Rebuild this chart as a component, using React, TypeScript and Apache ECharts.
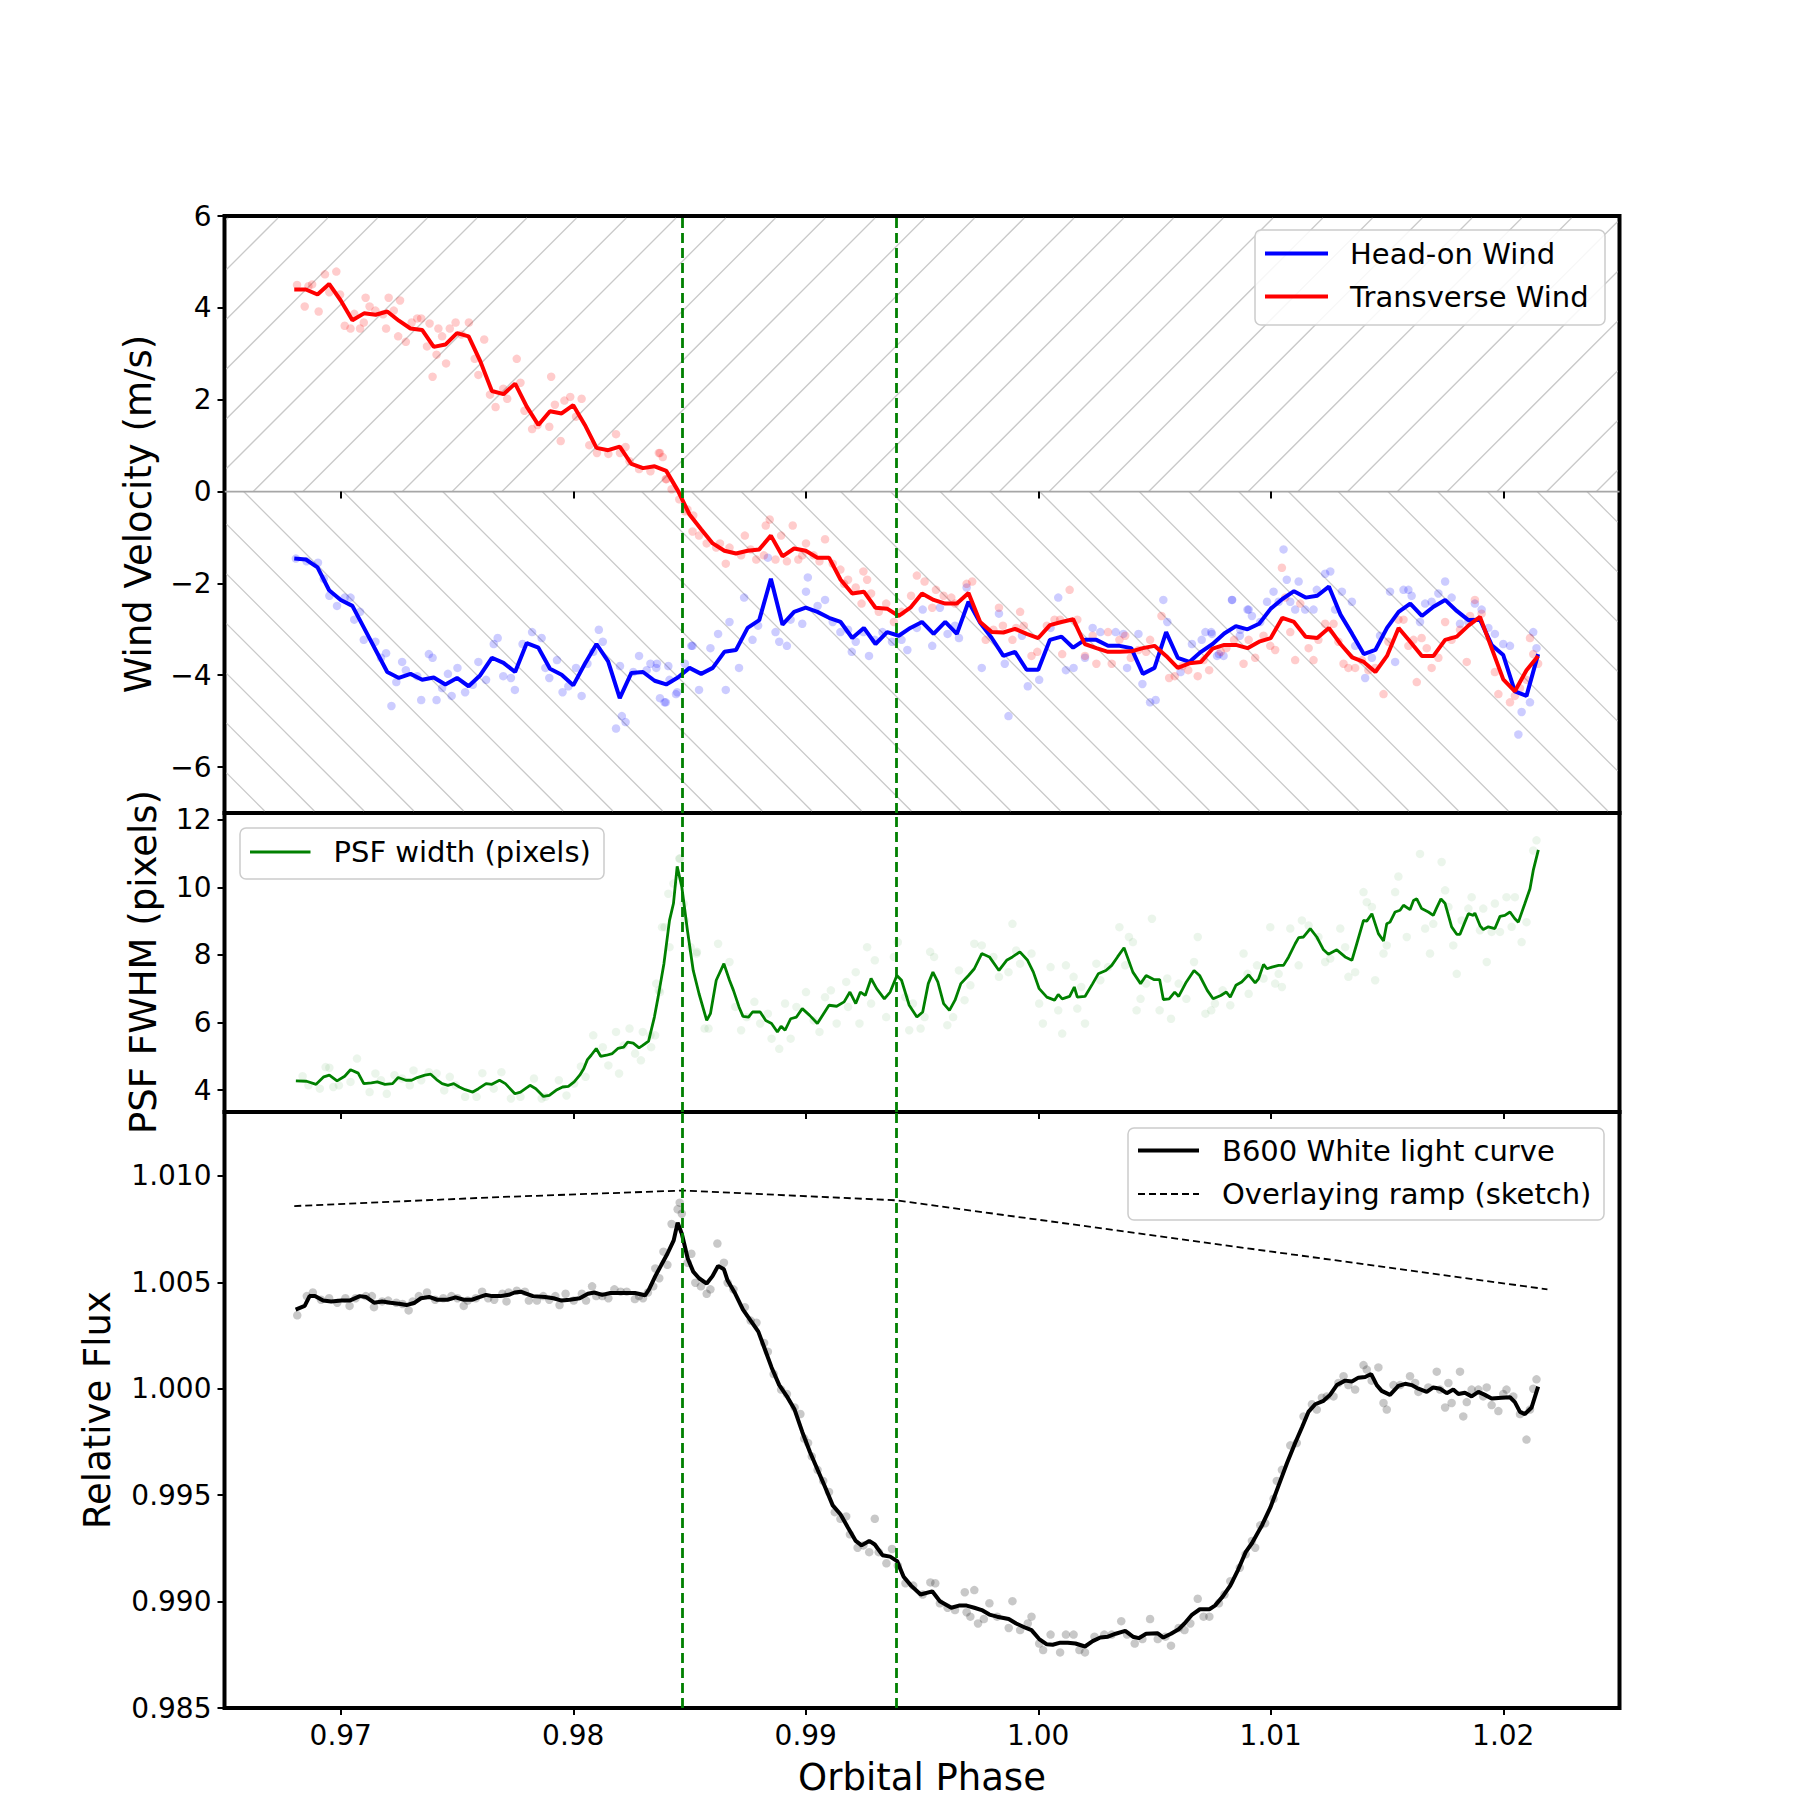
import React, { useEffect, useRef } from 'react';
import * as echarts from 'echarts';

// ---------------- DATA ----------------
const X_TICKS = [0.97, 0.98, 0.99, 1.0, 1.01, 1.02];
const WIND_TICKS = [-6, -4, -2, 0, 2, 4, 6];
const PSF_TICKS = [4, 6, 8, 10, 12];
const FLUX_TICKS = [0.985, 0.99, 0.995, 1.0, 1.005, 1.01];
const EVENT_PHASES = [0.9847, 0.9939];

const WIND_PHASE = [
  0.968, 0.9685, 0.969, 0.9695, 0.97, 0.9705, 0.971, 0.9715, 0.972, 0.9725,
  0.973, 0.9735, 0.974, 0.9745, 0.975, 0.9755, 0.976, 0.9765, 0.977, 0.9775,
  0.978, 0.9785, 0.979, 0.9795, 0.98, 0.9805, 0.981, 0.9815, 0.982, 0.9825,
  0.983, 0.9835, 0.984, 0.9845, 0.985, 0.9855, 0.986, 0.9865, 0.987, 0.9875,
  0.988, 0.9885, 0.989, 0.9895, 0.99, 0.9905, 0.991, 0.9915, 0.992, 0.9925,
  0.993, 0.9935, 0.994, 0.9945, 0.995, 0.9955, 0.996, 0.9965, 0.997, 0.9975,
  0.998, 0.9985, 0.999, 0.9995, 1.0, 1.0005, 1.001, 1.0015, 1.002, 1.0025,
  1.003, 1.0035, 1.004, 1.0045, 1.005, 1.0055, 1.006, 1.0065, 1.007, 1.0075,
  1.008, 1.0085, 1.009, 1.0095, 1.01, 1.0105, 1.011, 1.0115, 1.012, 1.0125,
  1.013, 1.0135, 1.014, 1.0145, 1.015, 1.0155, 1.016, 1.0165, 1.017, 1.0175,
  1.018, 1.0185, 1.019, 1.0195, 1.02, 1.0205, 1.021, 1.0215,
];

const HEAD_ON_WIND = [
  -1.46, -1.48, -1.65, -2.15, -2.36, -2.49, -2.97, -3.45, -3.93, -4.06,
  -3.97, -4.10, -4.05, -4.20, -4.06, -4.24, -4.00, -3.62, -3.73, -3.93,
  -3.30, -3.40, -3.86, -3.99, -4.22, -3.75, -3.32, -3.70, -4.50, -3.95,
  -3.93, -4.12, -4.20, -4.05, -3.84, -3.97, -3.84, -3.49, -3.45, -2.97,
  -2.80, -1.90, -2.90, -2.62, -2.53, -2.62, -2.75, -2.84, -3.19, -2.97,
  -3.32, -3.06, -3.14, -2.97, -2.84, -3.10, -2.84, -3.10, -2.40, -2.86,
  -3.19, -3.58, -3.49, -3.88, -3.88, -3.23, -3.16, -3.40, -3.23, -3.23,
  -3.36, -3.36, -3.41, -3.97, -3.84, -3.06, -3.62, -3.71, -3.49, -3.32,
  -3.09, -2.93, -3.00, -2.88, -2.55, -2.34, -2.17, -2.31, -2.27, -2.07,
  -2.68, -3.10, -3.54, -3.45, -2.97, -2.62, -2.44, -2.71, -2.51, -2.36,
  -2.60, -2.80, -2.79, -3.34, -3.56, -4.35, -4.45, -3.54,
];

const TRANSVERSE_WIND = [
  4.40, 4.40, 4.29, 4.52, 4.16, 3.73, 3.88, 3.85, 3.92, 3.72,
  3.55, 3.52, 3.15, 3.20, 3.45, 3.38, 2.84, 2.19, 2.12, 2.35,
  1.85, 1.45, 1.75, 1.70, 1.88, 1.45, 0.95, 0.90, 0.98, 0.60,
  0.51, 0.55, 0.45, 0.02, -0.50, -0.82, -1.13, -1.29, -1.35, -1.29,
  -1.26, -0.96, -1.41, -1.24, -1.29, -1.44, -1.44, -1.92, -2.22, -2.18,
  -2.53, -2.55, -2.71, -2.53, -2.22, -2.36, -2.44, -2.44, -2.21, -2.84,
  -3.06, -3.07, -2.99, -3.10, -3.19, -2.91, -2.84, -2.78, -3.32, -3.41,
  -3.49, -3.49, -3.48, -3.41, -3.36, -3.58, -3.84, -3.74, -3.71, -3.42,
  -3.34, -3.34, -3.41, -3.27, -3.19, -2.75, -2.84, -3.16, -3.19, -2.97,
  -3.32, -3.61, -3.71, -3.93, -3.58, -2.97, -3.27, -3.58, -3.58, -3.23,
  -3.16, -2.92, -2.73, -3.41, -4.09, -4.35, -3.89, -3.58,
];

const HEAD_ON_POINTS = [
  [0.96807, -1.46], [0.96853, -1.52], [0.96902, -1.55], [0.96927, -1.90], [0.96951, -2.27],
  [0.96984, -2.49], [0.97017, -2.31], [0.97042, -2.31], [0.97058, -2.79], [0.97083, -2.62],
  [0.97099, -3.23], [0.97149, -3.27], [0.97173, -3.62], [0.97195, -3.52], [0.97218, -4.67],
  [0.97239, -4.15], [0.97264, -3.71], [0.9728, -3.89], [0.97329, -4.02], [0.97346, -4.54],
  [0.97379, -3.54], [0.97395, -3.62], [0.97412, -4.54], [0.97436, -4.28], [0.97461, -3.97],
  [0.97477, -4.45], [0.97502, -3.84], [0.97535, -4.37], [0.97568, -4.21], [0.97592, -3.71],
  [0.97625, -4.10], [0.97658, -3.32], [0.97675, -3.19], [0.97699, -4.02], [0.97732, -4.06],
  [0.97749, -4.32], [0.97782, -3.32], [0.97823, -3.06], [0.97864, -3.19], [0.9788, -3.84],
  [0.97897, -4.06], [0.9793, -3.67], [0.97954, -4.37], [0.97979, -4.24], [0.98012, -3.84],
  [0.98036, -4.45], [0.98061, -3.75], [0.98086, -3.49], [0.9811, -3.01], [0.98127, -3.27],
  [0.98184, -5.16], [0.98209, -4.89], [0.98225, -5.02], [0.98201, -3.80], [0.98258, -3.93],
  [0.98283, -3.58], [0.98316, -3.89], [0.98332, -3.75], [0.98357, -3.84], [0.98373, -4.50],
  [0.98398, -4.59], [0.98414, -4.10], [0.98447, -4.37], [0.9848, -3.75], [0.98513, -3.36],
  [0.9836, -3.75], [0.98393, -4.59], [0.98409, -3.80], [0.98442, -4.41], [0.98508, -3.36],
  [0.98541, -4.32], [0.9859, -3.41], [0.98623, -3.10], [0.98656, -4.32], [0.98672, -2.84],
  [0.98713, -3.84], [0.98735, -2.31], [0.98771, -3.23], [0.98795, -2.92], [0.98837, -1.44],
  [0.9887, -3.06], [0.98886, -3.27], [0.98919, -3.36], [0.98935, -2.79], [0.98985, -2.88],
  [0.99001, -2.18], [0.99009, -1.87], [0.99051, -2.49], [0.99083, -2.36], [0.99116, -2.84],
  [0.99149, -3.06], [0.99182, -3.01], [0.99198, -3.49], [0.99215, -3.27], [0.99248, -3.06],
  [0.99272, -3.58], [0.99297, -3.23], [0.9933, -3.06], [0.99371, -3.27], [0.99412, -3.23],
  [0.99437, -3.45], [0.99478, -2.97], [0.99503, -2.57], [0.99544, -3.36], [0.99577, -2.53],
  [0.9961, -3.10], [0.99642, -2.92], [0.99659, -3.19], [0.99692, -2.09], [0.99757, -3.84],
  [0.99831, -2.66], [0.99856, -3.75], [0.99872, -4.89], [0.9993, -3.14], [0.99955, -4.24],
  [1.00004, -4.10], [1.00053, -2.97], [1.00086, -2.31], [1.00119, -3.89], [1.00152, -3.84],
  [1.00201, -3.62], [1.00234, -2.97], [1.00267, -3.06], [1.00333, -3.06], [1.00366, -3.10],
  [1.00382, -3.84], [1.00431, -3.10], [1.00448, -4.19], [1.00481, -4.59], [1.00505, -4.54],
  [1.00538, -2.36], [1.00555, -2.84], [1.00612, -3.93], [1.00661, -3.32], [1.00703, -3.23],
  [1.00744, -3.06], [1.00777, -3.54], [1.00834, -2.36], [1.00867, -3.14], [1.009, -2.57],
  [1.00719, -3.06], [1.00747, -3.10], [1.00769, -3.58], [1.00797, -3.58], [1.00833, -2.36],
  [1.00869, -3.01], [1.00905, -2.57], [1.00919, -2.71], [1.00955, -2.84], [1.00984, -2.40],
  [1.01012, -2.18], [1.01034, -2.40], [1.01055, -1.26], [1.01069, -1.92], [1.01084, -2.40],
  [1.01105, -2.57], [1.0112, -1.96], [1.01148, -2.57], [1.01184, -2.57], [1.01198, -2.14],
  [1.01234, -1.79], [1.01256, -1.74], [1.01277, -2.57], [1.01306, -2.18], [1.01349, -2.40],
  [1.01363, -3.36], [1.01406, -4.06], [1.01435, -3.62], [1.0147, -3.14], [1.01513, -2.18],
  [1.01535, -3.71], [1.01571, -2.14], [1.01592, -2.14], [1.01606, -2.27], [1.01642, -2.84],
  [1.01664, -2.44], [1.01692, -2.40], [1.01721, -2.22], [1.0175, -1.96], [1.01778, -2.31],
  [1.01814, -2.88], [1.0185, -2.84], [1.01878, -2.44], [1.01907, -2.57], [1.01936, -2.97],
  [1.01964, -3.10], [1.02, -3.32], [1.02029, -3.36], [1.02065, -5.29], [1.02079, -4.80],
  [1.02115, -4.59], [1.02129, -3.06], [1.02143, -3.41],
];

const TRANSVERSE_POINTS = [
  [0.96812, 4.50], [0.96845, 4.03], [0.96861, 4.47], [0.96877, 4.51], [0.96905, 3.92],
  [0.96932, 4.73], [0.96951, 4.34], [0.96981, 4.79], [0.96997, 4.29], [0.97017, 3.61],
  [0.97042, 3.55], [0.97058, 3.87], [0.97083, 3.55], [0.97099, 3.68], [0.97107, 4.22],
  [0.97124, 4.03], [0.97149, 3.94], [0.97182, 3.86], [0.97195, 3.55], [0.97206, 4.22],
  [0.97228, 3.94], [0.97247, 3.38], [0.97255, 4.16], [0.9728, 3.26], [0.97305, 3.68],
  [0.97329, 3.77], [0.97346, 3.77], [0.97371, 3.16], [0.97382, 3.66], [0.97395, 2.50],
  [0.97412, 2.98], [0.9742, 3.55], [0.97436, 3.38], [0.97453, 2.79], [0.97469, 3.55],
  [0.97494, 3.68], [0.97519, 3.42], [0.97551, 3.68], [0.97576, 2.89], [0.97592, 2.54],
  [0.97617, 3.31], [0.97642, 2.11], [0.97666, 1.84], [0.97699, 2.24], [0.97716, 2.02],
  [0.97757, 2.89], [0.97773, 2.37], [0.9779, 1.76], [0.97823, 1.36], [0.97847, 1.45],
  [0.97897, 1.41], [0.97905, 2.50], [0.97921, 1.89], [0.97946, 1.10], [0.97962, 1.98],
  [0.97987, 2.06], [0.98012, 1.63], [0.98036, 2.02], [0.98069, 1.01], [0.98102, 0.84],
  [0.98151, 0.82], [0.98184, 1.25], [0.98201, 0.84], [0.98225, 0.97], [0.98242, 0.66],
  [0.98283, 0.49], [0.98332, 0.44], [0.98373, 0.84], [0.98398, 0.27], [0.98423, 0.05],
  [0.98456, -0.17], [0.9848, -0.43], [0.98513, -0.87],
  [0.98368, 0.84], [0.98385, 0.75], [0.98401, 0.27], [0.98491, -0.39], [0.98516, -0.52],
  [0.98541, -0.96], [0.98574, -1.13], [0.98615, -1.22], [0.98631, -1.13], [0.98656, -1.57],
  [0.98672, -1.22], [0.98722, -1.39], [0.98738, -0.96], [0.98763, -1.26], [0.98787, -1.48],
  [0.9882, -1.39], [0.98828, -0.74], [0.98845, -0.61], [0.9887, -1.48], [0.98894, -0.96],
  [0.98919, -1.52], [0.98944, -0.74], [0.98968, -1.48], [0.98985, -1.39], [0.99001, -1.13],
  [0.99034, -1.39], [0.99059, -1.52], [0.99083, -1.04], [0.99116, -1.57], [0.99149, -1.70],
  [0.99165, -2.01], [0.99182, -1.92], [0.99215, -2.09], [0.9924, -2.44], [0.99248, -1.74],
  [0.99264, -1.92], [0.99281, -2.22], [0.99314, -2.62], [0.99346, -2.44], [0.99379, -2.84],
  [0.99412, -2.62], [0.99453, -2.27], [0.99478, -1.83], [0.99511, -1.96], [0.99544, -2.53],
  [0.9956, -2.14], [0.99593, -2.27], [0.99626, -2.31], [0.99642, -2.44], [0.99692, -2.01],
  [0.99716, -1.96], [0.99774, -3.23], [0.99807, -3.01], [0.99831, -2.53], [0.99848, -2.92],
  [0.99889, -3.23], [0.99905, -2.97], [0.99922, -2.62], [0.99938, -2.92], [0.99971, -3.58],
  [0.99996, -3.49], [1.00037, -2.92], [1.0007, -2.79], [1.00094, -2.79], [1.00103, -3.54],
  [1.00135, -2.14], [1.00168, -2.79], [1.00201, -3.58], [1.00234, -3.14], [1.0025, -3.75],
  [1.003, -3.06], [1.00316, -3.75], [1.00349, -3.23], [1.00374, -3.14], [1.00398, -3.62],
  [1.00431, -3.45], [1.00464, -3.49], [1.00481, -3.23], [1.0053, -2.71], [1.00563, -4.06],
  [1.00587, -4.02], [1.0062, -3.80], [1.00645, -3.89], [1.00686, -4.02], [1.00711, -3.67],
  [1.00735, -3.89], [1.00785, -3.49], [1.00809, -3.41], [1.00842, -3.23], [1.00883, -3.75],
  [1.00905, -3.23], [1.00933, -3.62], [1.00969, -3.14], [1.00998, -3.36], [1.01019, -3.45],
  [1.01048, -1.66], [1.01062, -2.31], [1.01084, -3.06], [1.01105, -3.67], [1.01127, -2.44],
  [1.01163, -3.41], [1.01184, -3.67], [1.01205, -3.23], [1.01234, -2.88], [1.0127, -2.88],
  [1.01291, -3.27], [1.01313, -3.75], [1.01334, -3.84], [1.01363, -3.84], [1.01392, -3.67],
  [1.0142, -3.89], [1.01449, -3.84], [1.01485, -4.41], [1.01506, -3.27], [1.01549, -2.79],
  [1.01571, -2.79], [1.01592, -3.36], [1.01614, -3.23], [1.01628, -4.15], [1.01649, -3.19],
  [1.01671, -3.41], [1.01692, -3.84], [1.01721, -3.62], [1.0175, -2.84], [1.01778, -3.23],
  [1.01814, -3.01], [1.01843, -3.71], [1.01857, -2.71], [1.01878, -2.36], [1.01907, -2.66],
  [1.01964, -3.93], [1.01979, -4.41], [1.02029, -4.59], [1.0205, -4.45], [1.02072, -4.28],
  [1.021, -4.10], [1.02115, -3.19], [1.02129, -3.54], [1.0215, -3.75],
];

const PSF_CURVE = [
  [0.96807, 4.27], [0.96853, 4.26], [0.96894, 4.17], [0.96927, 4.39], [0.96951, 4.44],
  [0.96984, 4.27], [0.97017, 4.41], [0.97042, 4.6], [0.97075, 4.5], [0.97099, 4.19],
  [0.97132, 4.21], [0.97157, 4.24], [0.9719, 4.17], [0.97223, 4.19], [0.97247, 4.37],
  [0.9728, 4.29], [0.97305, 4.29], [0.97329, 4.37], [0.97362, 4.44], [0.97387, 4.47],
  [0.97412, 4.31], [0.97436, 4.19], [0.97461, 4.14], [0.97486, 4.19], [0.9751, 4.09],
  [0.97535, 4.01], [0.97568, 3.94], [0.97592, 4.04], [0.97625, 4.19], [0.9765, 4.17],
  [0.97683, 4.29], [0.97708, 4.19], [0.97749, 3.89], [0.97773, 3.94], [0.97814, 4.14],
  [0.97839, 4.04], [0.97872, 3.81], [0.97897, 3.84], [0.9793, 4.01], [0.97954, 4.09],
  [0.97979, 4.11], [0.98004, 4.24], [0.98028, 4.44], [0.98045, 4.63], [0.98061, 4.9],
  [0.98077, 5.03], [0.98099, 5.23], [0.98118, 5.0], [0.98143, 5.03], [0.98168, 5.08],
  [0.98192, 5.23], [0.98217, 5.27], [0.98234, 5.42], [0.98258, 5.39], [0.98283, 5.25],
  [0.98299, 5.32], [0.98324, 5.45], [0.98349, 6.16], [0.98365, 6.75], [0.9839, 7.74],
  [0.98414, 9.02], [0.98431, 9.52], [0.98447, 10.62], [0.98467, 10.01], [0.98491, 8.73],
  [0.98516, 7.54], [0.98541, 6.85], [0.98574, 6.06], [0.9859, 6.26], [0.98615, 7.25],
  [0.98648, 7.74], [0.98672, 7.25], [0.98689, 6.95], [0.98713, 6.46], [0.9873, 6.18],
  [0.98754, 6.16], [0.98771, 6.31], [0.98804, 6.31], [0.98828, 6.06], [0.98853, 5.97],
  [0.98878, 5.72], [0.98894, 5.89], [0.98911, 5.77], [0.98935, 6.11], [0.9896, 6.16],
  [0.98985, 6.41], [0.99017, 6.21], [0.9905, 5.97], [0.991, 6.51], [0.99133, 6.48],
  [0.99165, 6.61], [0.9919, 6.9], [0.99215, 6.56], [0.99235, 6.9], [0.99256, 6.8],
  [0.99281, 7.3], [0.99305, 7.0], [0.99338, 6.7], [0.99363, 6.9], [0.99392, 7.39],
  [0.99412, 7.25], [0.99445, 6.51], [0.99478, 6.16], [0.99503, 6.31], [0.99527, 7.15],
  [0.99547, 7.49], [0.99568, 7.2], [0.99593, 6.56], [0.99618, 6.36], [0.99642, 6.66],
  [0.99667, 7.15], [0.997, 7.39], [0.99725, 7.59], [0.99757, 8.04], [0.9979, 7.94],
  [0.99831, 7.54], [0.99864, 7.84], [0.99889, 7.94], [0.99921, 8.09], [0.99954, 7.84],
  [0.99979, 7.49], [1.00004, 7.0], [1.00037, 6.75], [1.0007, 6.66], [1.00086, 6.83],
  [1.00103, 6.7], [1.00135, 6.77], [1.00155, 7.05], [1.00168, 6.75], [1.00201, 6.77],
  [1.00234, 7.15], [1.00258, 7.44], [1.00291, 7.54], [1.00316, 7.69], [1.00341, 7.94],
  [1.00369, 8.21], [1.00407, 7.49], [1.0044, 7.15], [1.00464, 7.39], [1.00497, 7.27],
  [1.00522, 7.27], [1.00538, 6.68], [1.00563, 6.7], [1.00587, 6.9], [1.00604, 6.77],
  [1.00637, 7.2], [1.0067, 7.54], [1.00694, 7.39], [1.00727, 6.95], [1.00752, 6.7],
  [1.00785, 6.8], [1.00809, 6.9], [1.00826, 6.75], [1.0085, 7.1], [1.00875, 7.2],
  [1.00905, 7.41], [1.00933, 7.17], [1.00948, 7.3], [1.00969, 7.72], [1.00984, 7.59],
  [1.01005, 7.64], [1.01034, 7.69], [1.01055, 7.69], [1.01077, 7.94], [1.01105, 8.33],
  [1.0112, 8.51], [1.01141, 8.53], [1.0117, 8.78], [1.01198, 8.53], [1.01227, 8.15],
  [1.01248, 8.02], [1.01284, 8.15], [1.0132, 7.94], [1.01349, 7.84], [1.0137, 8.33],
  [1.01399, 9.02], [1.01413, 9.0], [1.01435, 9.22], [1.01463, 8.63], [1.01485, 8.41],
  [1.01499, 8.92], [1.01513, 8.97], [1.01535, 9.27], [1.01556, 9.32], [1.01571, 9.47],
  [1.01599, 9.34], [1.01614, 9.61], [1.01628, 9.66], [1.01649, 9.37], [1.01678, 9.27],
  [1.01699, 9.17], [1.01714, 9.4], [1.01732, 9.66], [1.0175, 9.52], [1.01778, 8.83],
  [1.018, 8.61], [1.01814, 8.61], [1.01835, 8.97], [1.0185, 9.22], [1.01871, 9.17],
  [1.01878, 9.24], [1.019, 8.87], [1.01914, 8.75], [1.01936, 8.83], [1.01964, 8.78],
  [1.01986, 9.14], [1.02007, 9.17], [1.02029, 9.27], [1.0205, 9.07], [1.02065, 8.97],
  [1.02093, 9.52], [1.02115, 9.96], [1.02129, 10.5], [1.02151, 11.11],
];

const PSF_POINTS = [
  [0.96836, 4.41], [0.96861, 4.14], [0.9691, 4.04], [0.96935, 4.68], [0.96951, 4.66],
  [0.96968, 4.09], [0.96992, 4.14], [0.97042, 4.24], [0.9707, 4.93], [0.97124, 3.94],
  [0.97149, 4.49], [0.97173, 4.29], [0.97198, 3.89], [0.97231, 4.44], [0.97264, 4.34],
  [0.97297, 4.14], [0.97313, 4.58], [0.97346, 4.29], [0.97379, 4.53], [0.97412, 4.49],
  [0.97445, 3.99], [0.97469, 4.39], [0.97494, 4.14], [0.97535, 3.8], [0.97584, 3.8],
  [0.97609, 4.5], [0.97658, 4.04], [0.97691, 4.53], [0.97732, 3.75], [0.97773, 3.8],
  [0.97831, 4.34], [0.97864, 3.75], [0.9788, 3.8], [0.97938, 4.29], [0.97971, 3.84],
  [0.98004, 4.19], [0.98033, 4.7], [0.98053, 4.39], [0.98086, 5.62], [0.98127, 5.27],
  [0.98151, 4.73], [0.98184, 5.72], [0.98197, 4.49], [0.98217, 5.32], [0.98242, 5.82],
  [0.98266, 5.08], [0.98291, 4.88], [0.98299, 5.72], [0.98332, 5.62], [0.98357, 7.15],
  [0.98373, 6.9], [0.98382, 8.82], [0.98414, 8.23], [0.98431, 10.11], [0.98456, 10.85],
  [0.9848, 9.02], [0.98505, 8.23], [0.9853, 8.04],
  [0.98335, 5.27], [0.98352, 5.62], [0.98368, 6.95], [0.98393, 8.82], [0.98409, 9.81],
  [0.98459, 10.85], [0.98475, 9.52], [0.98532, 8.09], [0.98565, 5.82], [0.98582, 5.82],
  [0.98623, 8.33], [0.98672, 7.79], [0.98697, 6.46], [0.98722, 5.77], [0.98746, 6.16],
  [0.98779, 6.61], [0.98804, 5.97], [0.98837, 6.26], [0.98853, 5.52], [0.98886, 5.22],
  [0.98911, 6.56], [0.98935, 5.52], [0.9896, 6.46], [0.99001, 6.9], [0.99034, 6.06],
  [0.99059, 5.72], [0.99083, 6.75], [0.99108, 6.95], [0.99133, 5.97], [0.99174, 7.2],
  [0.99182, 6.46], [0.99215, 7.49], [0.99231, 5.97], [0.99264, 8.23], [0.99281, 6.56],
  [0.99297, 7.84], [0.99346, 6.16], [0.99379, 7.94], [0.99396, 8.38], [0.99428, 6.75],
  [0.99445, 5.77], [0.99461, 6.56], [0.99494, 5.82], [0.99511, 6.16], [0.99535, 8.09],
  [0.99552, 7.94], [0.99609, 5.92], [0.99634, 6.16], [0.99659, 7.54], [0.99683, 6.66],
  [0.99708, 7.1], [0.99725, 8.33], [0.99757, 8.28], [0.99807, 7.94], [0.99831, 7.35],
  [0.99872, 7.49], [0.99889, 8.92], [0.99905, 8.13], [0.99922, 7.74], [0.99971, 8.04],
  [1.00004, 6.56], [1.0002, 5.97], [1.00053, 7.64], [1.00086, 6.36], [1.00103, 5.67],
  [1.00119, 7.69], [1.00152, 7.35], [1.00168, 6.41], [1.00185, 7.05], [1.00201, 5.97],
  [1.0025, 7.74], [1.00267, 7.25], [1.003, 7.64], [1.00349, 8.82], [1.00374, 7.69],
  [1.0039, 8.53], [1.00407, 8.38], [1.00423, 6.36], [1.0044, 6.7], [1.00464, 7.15],
  [1.00489, 9.07], [1.00522, 6.36], [1.00555, 7.3], [1.00571, 6.11], [1.00604, 7.15],
  [1.00637, 6.7], [1.0067, 7.79], [1.00686, 8.53], [1.00719, 6.26], [1.00744, 6.36],
  [1.0076, 6.56], [1.00793, 6.95], [1.00826, 6.51], [1.00883, 8.04], [1.009, 7.44],
  [1.00905, 6.85], [1.00941, 7.69], [1.00969, 7.3], [1.00998, 8.82], [1.01019, 7.15],
  [1.01034, 7.44], [1.01048, 7.05], [1.01084, 8.78], [1.0112, 7.69], [1.01134, 9.02],
  [1.01163, 8.87], [1.01205, 8.53], [1.01234, 7.79], [1.01256, 7.89], [1.01299, 8.78],
  [1.0132, 8.23], [1.01334, 7.35], [1.01363, 7.49], [1.01399, 9.86], [1.01413, 9.56],
  [1.01435, 9.42], [1.01449, 7.25], [1.01485, 8.04], [1.01499, 8.28], [1.01535, 9.86],
  [1.01549, 10.32], [1.01585, 8.53], [1.01642, 10.99], [1.01664, 8.78], [1.01685, 8.04],
  [1.01699, 8.92], [1.01735, 10.75], [1.0175, 9.91], [1.01764, 9.42], [1.01785, 8.28],
  [1.018, 7.44], [1.01821, 9.02], [1.0185, 9.37], [1.01864, 9.71], [1.019, 8.73],
  [1.01914, 9.37], [1.01929, 7.79], [1.0195, 8.68], [1.01964, 9.52], [1.01986, 8.68],
  [1.02014, 9.71], [1.02036, 8.83], [1.0205, 9.71], [1.02079, 8.38], [1.021, 8.97],
  [1.02129, 11.09], [1.02143, 11.39],
];

const FLUX_CURVE = [
  [0.96806, 1.00372], [0.96845, 1.00389], [0.96866, 1.00435], [0.96889, 1.00435], [0.96924, 1.00414],
  [0.96959, 1.0041], [0.97003, 1.00414], [0.97038, 1.00414], [0.97082, 1.00435], [0.97108, 1.00431],
  [0.97143, 1.00404], [0.97178, 1.0041], [0.97213, 1.00404], [0.97257, 1.00398], [0.97283, 1.00393],
  [0.97318, 1.00404], [0.97345, 1.00425], [0.9738, 1.00431], [0.97415, 1.00418], [0.97459, 1.00418],
  [0.97494, 1.00429], [0.97529, 1.00418], [0.97564, 1.00418], [0.97599, 1.00431], [0.97625, 1.00441],
  [0.97651, 1.00435], [0.97687, 1.00435], [0.97722, 1.00441], [0.97748, 1.00452], [0.97774, 1.00456],
  [0.978, 1.00446], [0.97827, 1.00435], [0.97879, 1.00431], [0.97915, 1.00425], [0.9795, 1.00414],
  [0.97985, 1.00418], [0.98028, 1.00425], [0.98063, 1.00446], [0.9809, 1.00452], [0.98125, 1.00441],
  [0.9816, 1.0045], [0.98195, 1.0045], [0.9823, 1.0045], [0.98265, 1.0045], [0.98309, 1.00439],
  [0.98326, 1.00467], [0.98353, 1.00529], [0.98379, 1.00582], [0.98405, 1.00634], [0.98432, 1.00697],
  [0.98449, 1.0078], [0.98467, 1.00728], [0.98492, 1.00613], [0.98516, 1.0055], [0.98541, 1.00519],
  [0.98574, 1.00494], [0.98599, 1.00529], [0.98623, 1.00577], [0.98648, 1.00561], [0.98664, 1.00508],
  [0.98697, 1.00446], [0.9873, 1.00372], [0.98763, 1.0032], [0.98796, 1.00268], [0.98821, 1.00195],
  [0.98853, 1.001], [0.98886, 1.00017], [0.98919, 0.99964], [0.98952, 0.99902], [0.98985, 0.99797],
  [0.99018, 0.99703], [0.99051, 0.99619], [0.99084, 0.99536], [0.99116, 0.99452], [0.99149, 0.9941],
  [0.99182, 0.99347], [0.99215, 0.99285], [0.9924, 0.99264], [0.99273, 0.99285], [0.99297, 0.99268],
  [0.9933, 0.99218], [0.99363, 0.99211], [0.99393, 0.9919], [0.99421, 0.99117], [0.99453, 0.99075],
  [0.99494, 0.99033], [0.99544, 0.99048], [0.99577, 0.99002], [0.99626, 0.98971], [0.99659, 0.98981],
  [0.99692, 0.98981], [0.99725, 0.98971], [0.99757, 0.9896], [0.9979, 0.98939], [0.99823, 0.98929],
  [0.99873, 0.98918], [0.99905, 0.98897], [0.99947, 0.98876], [0.99971, 0.98866], [1.00004, 0.98824],
  [1.00037, 0.98799], [1.00062, 0.98797], [1.00095, 0.98807], [1.00127, 0.98807], [1.0016, 0.98803],
  [1.00201, 0.98789], [1.00234, 0.98814], [1.00267, 0.98831], [1.003, 0.98835], [1.00333, 0.98849],
  [1.00374, 0.98862], [1.00407, 0.98835], [1.00432, 0.98828], [1.00464, 0.98849], [1.00514, 0.98851],
  [1.00538, 0.98831], [1.00571, 0.98849], [1.00604, 0.9887], [1.00629, 0.98897], [1.00662, 0.98939],
  [1.00695, 0.98964], [1.00736, 0.98964], [1.0076, 0.98981], [1.00793, 0.99023], [1.00826, 0.99075],
  [1.00859, 0.99148], [1.00892, 0.99232], [1.00919, 0.99274], [1.00962, 0.99358], [1.00998, 0.99441],
  [1.01034, 0.99546], [1.0107, 0.99651], [1.01105, 0.99745], [1.01134, 0.99818], [1.01162, 0.99891],
  [1.01191, 0.99927], [1.01227, 0.99943], [1.01255, 0.99971], [1.01284, 1.00017], [1.0132, 1.00038],
  [1.01349, 1.00034], [1.01377, 1.00052], [1.01406, 1.00055], [1.01432, 1.00069], [1.01456, 1.00017],
  [1.01477, 0.9999], [1.01513, 0.99971], [1.01549, 1.00013], [1.01578, 1.00023], [1.01606, 1.00017],
  [1.01635, 1.0], [1.01671, 0.99985], [1.01699, 1.00006], [1.01728, 1.0], [1.01757, 0.99979],
  [1.01785, 0.99996], [1.01807, 0.99975], [1.01835, 0.99981], [1.01864, 0.99964], [1.01893, 0.99985],
  [1.01921, 0.99971], [1.0195, 0.99954], [1.01993, 0.99958], [1.02029, 0.9996], [1.0205, 0.99937],
  [1.02072, 0.99891], [1.02093, 0.99881], [1.02122, 0.99912], [1.0215, 1.0001],
];

const FLUX_POINTS = [
  [0.96813, 1.00345], [0.96854, 1.00435], [0.9688, 1.00452], [0.96915, 1.00418], [0.9695, 1.00425],
  [0.96985, 1.00404], [0.9702, 1.00425], [0.97038, 1.00389], [0.97064, 1.00425], [0.97108, 1.00435],
  [0.97134, 1.00435], [0.97143, 1.00383], [0.97178, 1.0041], [0.97204, 1.00414], [0.97239, 1.00404],
  [0.97266, 1.00398], [0.97292, 1.00368], [0.9731, 1.0041], [0.97336, 1.00435], [0.97371, 1.00452],
  [0.97406, 1.00418], [0.97441, 1.00425], [0.97476, 1.00435], [0.97502, 1.00425], [0.97529, 1.00389],
  [0.97546, 1.00414], [0.97581, 1.00425], [0.97608, 1.00456], [0.97634, 1.00425], [0.9766, 1.00418],
  [0.97695, 1.00446], [0.97713, 1.0041], [0.97722, 1.00452], [0.97757, 1.0046], [0.97792, 1.00456],
  [0.97809, 1.00414], [0.97844, 1.00414], [0.97871, 1.00435], [0.97897, 1.00418], [0.97923, 1.00435],
  [0.97941, 1.00393], [0.97967, 1.00446], [0.98002, 1.00414], [0.98037, 1.00446], [0.98055, 1.00414],
  [0.98081, 1.00481], [0.98099, 1.00435], [0.98125, 1.00435], [0.98151, 1.00425], [0.98177, 1.00467],
  [0.98204, 1.00456], [0.9823, 1.00456], [0.98265, 1.00421], [0.98283, 1.00435], [0.983, 1.00425],
  [0.98321, 1.00452], [0.98344, 1.00481], [0.98353, 1.00565], [0.9837, 1.00519], [0.98388, 1.00644],
  [0.98405, 1.00582], [0.98423, 1.00774], [0.98449, 1.00843], [0.98458, 1.00874], [0.98467, 1.00822],
  [0.98492, 1.00592], [0.98508, 1.00634], [0.98525, 1.00498], [0.98549, 1.00481], [0.98574, 1.00446],
  [0.9859, 1.00467], [0.9862, 1.00682], [0.98648, 1.00592], [0.98664, 1.00498], [0.98689, 1.00467],
  [0.98738, 1.00383], [0.98763, 1.0032], [0.98788, 1.0031], [0.98821, 1.00215], [0.98837, 1.00174],
  [0.98862, 1.00069], [0.98894, 0.99996], [0.98919, 0.99975], [0.98952, 0.99912], [0.98977, 0.99881],
  [0.98993, 0.99766], [0.9901, 0.99745], [0.99026, 0.99682], [0.99051, 0.99619], [0.99075, 0.99567],
  [0.991, 0.99515], [0.99125, 0.9942], [0.99149, 0.99389], [0.99174, 0.994], [0.9919, 0.99316],
  [0.99223, 0.99253], [0.99248, 0.99264], [0.99273, 0.99232], [0.99297, 0.99389], [0.99314, 0.99232],
  [0.99347, 0.9918], [0.99371, 0.99247], [0.99396, 0.99169], [0.99429, 0.99086], [0.99462, 0.99075],
  [0.99503, 0.99033], [0.99536, 0.9909], [0.99557, 0.99086], [0.99577, 0.98992], [0.9961, 0.98971],
  [0.99642, 0.9896], [0.99684, 0.99044], [0.99692, 0.9895], [0.99708, 0.98929], [0.99725, 0.99054],
  [0.99741, 0.98897], [0.99766, 0.98918], [0.9979, 0.98992], [0.99823, 0.98929], [0.99873, 0.98876],
  [0.99889, 0.99002], [0.99922, 0.98866], [0.99955, 0.98897], [0.99971, 0.98929], [1.00004, 0.98803],
  [1.00021, 0.98772], [1.00053, 0.98845], [1.00094, 0.98761], [1.00119, 0.98845], [1.00152, 0.98845],
  [1.00177, 0.98772], [1.00201, 0.98761], [1.00242, 0.98835], [1.00284, 0.98845], [1.00316, 0.98845],
  [1.00357, 0.98908], [1.00382, 0.98845], [1.00415, 0.98803], [1.00448, 0.98824], [1.00481, 0.98918],
  [1.00514, 0.98824], [1.00547, 0.98835], [1.00571, 0.98793], [1.00604, 0.98876], [1.00629, 0.98866],
  [1.00654, 0.98897], [1.00686, 0.99013], [1.00711, 0.98929], [1.00736, 0.98929], [1.00777, 0.98992],
  [1.00801, 0.99033], [1.00826, 0.99096], [1.00867, 0.99159], [1.00892, 0.99222],
  [1.00919, 0.99285], [1.00933, 0.99253], [1.00955, 0.99358], [1.00976, 0.99368], [1.01012, 0.99483],
  [1.01026, 0.99567], [1.01048, 0.99619], [1.01084, 0.99734], [1.01112, 0.99745], [1.01141, 0.9987],
  [1.01177, 0.99927], [1.01198, 0.99902], [1.0122, 0.99958], [1.01241, 0.99964], [1.0127, 0.99964],
  [1.01291, 1.00027], [1.01313, 1.00059], [1.01334, 1.00017], [1.01363, 0.99996], [1.01399, 1.00111],
  [1.01413, 1.0009], [1.01434, 1.00038], [1.01463, 1.001], [1.01485, 0.99933], [1.01499, 0.99902],
  [1.01528, 1.00017], [1.01556, 1.00017], [1.01599, 1.00059], [1.01621, 1.00027], [1.01635, 0.99985],
  [1.01678, 1.00006], [1.01714, 1.0008], [1.01728, 0.99996], [1.0175, 0.99912], [1.01764, 1.00027],
  [1.01778, 0.99933], [1.01814, 1.0008], [1.01828, 0.9987], [1.01843, 0.99937], [1.01864, 0.99996],
  [1.01893, 0.99996], [1.01914, 0.99964], [1.01929, 1.00006], [1.0195, 0.99923], [1.01979, 0.99895],
  [1.02, 0.99975], [1.02014, 0.99996], [1.02043, 0.99964], [1.02072, 0.99881], [1.021, 0.99761],
  [1.02115, 0.99902], [1.02129, 1.0], [1.02143, 1.00044],
];

const RAMP_CURVE = [
  [0.968, 1.00858], [0.9765, 1.00899], [0.9847, 1.00931], [0.9939, 1.00885], [1.0219, 1.00467],
];

// ---------------- STYLE ----------------
const FONT = '"DejaVu Sans", "Liberation Sans", sans-serif';
const LEFT = 224.5;
const WIDTH = 1395;
const GRIDS = [
  { top: 216, height: 597 },
  { top: 813, height: 299 },
  { top: 1112, height: 596 },
];
const HATCH = '#c9c9c9';

const minus = (v: number) => (v < 0 ? '\u2212' + Math.abs(v) : String(v));

function hatchRender(params: any, api: any) {
  const cs = params.coordSys;
  const x0 = cs.x + 2;
  const x1 = cs.x + cs.width - 2;
  const yTop = cs.y + 2;
  const yBot = cs.y + cs.height - 2;
  const yZero = api.coord([1.0, 0])[1];
  const sp = 49.75;
  const children: any[] = [];
  // upper region "/" : x + y = c
  const cRef = cs.x + 55.5 + cs.y;
  const cmin = x0 + yTop;
  const cmax = x1 + yZero;
  let k = Math.ceil((cmin - cRef) / sp);
  for (let c = cRef + k * sp; c <= cmax; c += sp) {
    const xa = Math.max(x0, c - yZero);
    const xb = Math.min(x1, c - yTop);
    if (xb - xa < 0.5) continue;
    children.push({
      type: 'line',
      shape: { x1: xa, y1: c - xa, x2: xb, y2: c - xb },
      style: { stroke: HATCH, lineWidth: 1.3 },
    });
  }
  // lower region "\" : x - y = d
  const dRef = cs.x + 68.9 - yZero;
  const dmin = x0 - yBot;
  const dmax = x1 - yZero;
  k = Math.ceil((dmin - dRef) / sp);
  for (let d = dRef + k * sp; d <= dmax; d += sp) {
    const xa = Math.max(x0, d + yZero);
    const xb = Math.min(x1, d + yBot);
    if (xb - xa < 0.5) continue;
    children.push({
      type: 'line',
      shape: { x1: xa, y1: xa - d, x2: xb, y2: xb - d },
      style: { stroke: HATCH, lineWidth: 1.3 },
    });
  }
  children.push({
    type: 'line',
    shape: { x1: cs.x, y1: yZero, x2: cs.x + cs.width, y2: yZero },
    style: { stroke: '#a6a6a6', lineWidth: 1.8 },
  });
  return { type: 'group', children };
}

const vLines = () => ({
  silent: true,
  precision: 6,
  symbol: ['none', 'none'],
  label: { show: false },
  lineStyle: { color: '#008000', width: 2.8, type: [10, 5] },
  emphasis: { disabled: true },
  data: EVENT_PHASES.map((p) => ({ xAxis: p })),
});

function legendBox(x: number, y: number, w: number, h: number) {
  return {
    type: 'rect',
    z: 100,
    shape: { x, y, width: w, height: h, r: 6 },
    style: { fill: 'rgba(255,255,255,0.85)', stroke: '#cccccc', lineWidth: 1.5 },
  };
}
function legendLine(x1: number, x2: number, y: number, color: string, width: number, dash?: number[]) {
  return {
    type: 'line',
    z: 101,
    shape: { x1, y1: y, x2, y2: y },
    style: { stroke: color, lineWidth: width, lineDash: dash || null },
  };
}
function legendText(x: number, y: number, text: string) {
  return {
    type: 'text',
    z: 101,
    x,
    y,
    style: {
      text,
      fontSize: 29,
      fontFamily: FONT,
      fill: '#000',
      align: 'left',
      verticalAlign: 'middle',
      textAlign: 'left',
      textVerticalAlign: 'middle',
    },
  };
}
function axisTitle(x: number, y: number, text: string, rotate: boolean) {
  return {
    type: 'text',
    z: 101,
    x,
    y,
    rotation: rotate ? Math.PI / 2 : 0,
    style: {
      text,
      fontSize: 37,
      fontFamily: FONT,
      fill: '#000',
      align: 'center',
      verticalAlign: 'middle',
      textAlign: 'center',
      textVerticalAlign: 'middle',
    },
  };
}

function buildOption() {
  const tickStyle = { show: true, inside: false, length: 7, lineStyle: { color: '#000', width: 2 } };
  const labelStyle = { color: '#000', fontSize: 28, fontFamily: FONT, margin: 13 };

  const xAxis = GRIDS.map((_, g) => ({
    type: 'value',
    gridIndex: g,
    min: 0.965,
    max: 1.025,
    axisLine: { show: false },
    splitLine: { show: false },
    axisTick: { ...tickStyle, customValues: X_TICKS },
    axisLabel: {
      ...labelStyle,
      show: g === 2,
      customValues: X_TICKS,
      formatter: (v: number) => v.toFixed(2),
    },
  }));

  const yAxis = [
    {
      type: 'value', gridIndex: 0, min: -7, max: 6,
      axisLine: { show: false }, splitLine: { show: false },
      axisTick: { ...tickStyle, customValues: WIND_TICKS },
      axisLabel: { ...labelStyle, customValues: WIND_TICKS, formatter: (v: number) => minus(v) },
    },
    {
      type: 'value', gridIndex: 1, min: 3.35, max: 12.2,
      axisLine: { show: false }, splitLine: { show: false },
      axisTick: { ...tickStyle, customValues: PSF_TICKS },
      axisLabel: { ...labelStyle, customValues: PSF_TICKS, formatter: (v: number) => String(v) },
    },
    {
      type: 'value', gridIndex: 2, min: 0.985, max: 1.013,
      axisLine: { show: false }, splitLine: { show: false },
      axisTick: { ...tickStyle, customValues: FLUX_TICKS },
      axisLabel: { ...labelStyle, customValues: FLUX_TICKS, formatter: (v: number) => v.toFixed(3) },
    },
  ];

  const grid = GRIDS.map((g) => ({
    left: LEFT,
    top: g.top,
    width: WIDTH,
    height: g.height,
    show: true,
    borderColor: '#000',
    borderWidth: 4,
    backgroundColor: 'transparent',
    containLabel: false,
  }));

  const headLine = WIND_PHASE.map((p, i) => [p, HEAD_ON_WIND[i]]);
  const transLine = WIND_PHASE.map((p, i) => [p, TRANSVERSE_WIND[i]]);

  const series: any[] = [
    {
      type: 'custom', name: 'hatch', xAxisIndex: 0, yAxisIndex: 0, silent: true, z: 0,
      renderItem: hatchRender, data: [[1.0, 0]], clip: false,
    },
    {
      type: 'scatter', name: 'Head-on points', xAxisIndex: 0, yAxisIndex: 0, z: 2, silent: true,
      symbolSize: 8.5, itemStyle: { color: 'rgba(0,0,255,0.25)' }, data: HEAD_ON_POINTS,
    },
    {
      type: 'scatter', name: 'Transverse points', xAxisIndex: 0, yAxisIndex: 0, z: 2, silent: true,
      symbolSize: 8.5, itemStyle: { color: 'rgba(255,0,0,0.25)' }, data: TRANSVERSE_POINTS,
    },
    {
      type: 'line', name: 'Head-on Wind', xAxisIndex: 0, yAxisIndex: 0, z: 3, silent: true,
      symbol: 'none', lineStyle: { color: '#0000ff', width: 4 }, data: headLine,
    },
    {
      type: 'line', name: 'Transverse Wind', xAxisIndex: 0, yAxisIndex: 0, z: 4, silent: true,
      symbol: 'none', lineStyle: { color: '#ff0000', width: 4 }, data: transLine,
      markLine: vLines(),
    },
    {
      type: 'scatter', name: 'PSF points', xAxisIndex: 1, yAxisIndex: 1, z: 2, silent: true,
      symbolSize: 8.5, itemStyle: { color: 'rgba(0,128,0,0.1)' }, data: PSF_POINTS,
    },
    {
      type: 'line', name: 'PSF width (pixels)', xAxisIndex: 1, yAxisIndex: 1, z: 3, silent: true,
      symbol: 'none', lineStyle: { color: '#008000', width: 2.8 }, data: PSF_CURVE,
      markLine: vLines(),
    },
    {
      type: 'scatter', name: 'Flux points', xAxisIndex: 2, yAxisIndex: 2, z: 2, silent: true,
      symbolSize: 8.5, itemStyle: { color: 'rgba(0,0,0,0.27)' }, data: FLUX_POINTS,
    },
    {
      type: 'line', name: 'B600 White light curve', xAxisIndex: 2, yAxisIndex: 2, z: 3, silent: true,
      symbol: 'none', lineStyle: { color: '#000', width: 4 }, data: FLUX_CURVE,
      markLine: vLines(),
    },
    {
      type: 'line', name: 'Overlaying ramp (sketch)', xAxisIndex: 2, yAxisIndex: 2, z: 3, silent: true,
      symbol: 'none', lineStyle: { color: '#000', width: 1.8, type: [7, 4] }, data: RAMP_CURVE,
    },
  ];

  const graphic = [
    legendBox(1255, 230, 350, 95),
    legendLine(1265, 1328, 253.5, '#0000ff', 4),
    legendText(1350, 253.5, 'Head-on Wind'),
    legendLine(1265, 1328, 296.5, '#ff0000', 4),
    legendText(1350, 296.5, 'Transverse Wind'),

    legendBox(240, 828, 364, 51),
    legendLine(250, 310.5, 852, '#008000', 2.8),
    legendText(333.5, 852, 'PSF width (pixels)'),

    legendBox(1128, 1128, 476, 92),
    legendLine(1138, 1199, 1150.5, '#000', 4),
    legendText(1222, 1150.5, 'B600 White light curve'),
    legendLine(1138, 1199, 1194, '#000', 1.8, [7, 4]),
    legendText(1222, 1194, 'Overlaying ramp (sketch)'),

    axisTitle(138, 514, 'Wind Velocity (m/s)', true),
    axisTitle(143.5, 962, 'PSF FWHM (pixels)', true),
    axisTitle(97.5, 1410, 'Relative Flux', true),
    axisTitle(922, 1777, 'Orbital Phase', false),
  ];

  return {
    animation: false,
    backgroundColor: '#ffffff',
    grid,
    xAxis,
    yAxis,
    series,
    graphic,
  };
}

export default function App() {
  const ref = useRef<HTMLDivElement>(null);
  useEffect(() => {
    if (!ref.current) return;
    const chart = echarts.init(ref.current, null, { renderer: 'svg' });
    chart.setOption(buildOption() as any);
    return () => chart.dispose();
  }, []);
  return (
    <div
      ref={ref}
      style={{ position: 'absolute', left: 0, top: 0, width: 1800, height: 1800, background: '#fff' }}
    />
  );
}
